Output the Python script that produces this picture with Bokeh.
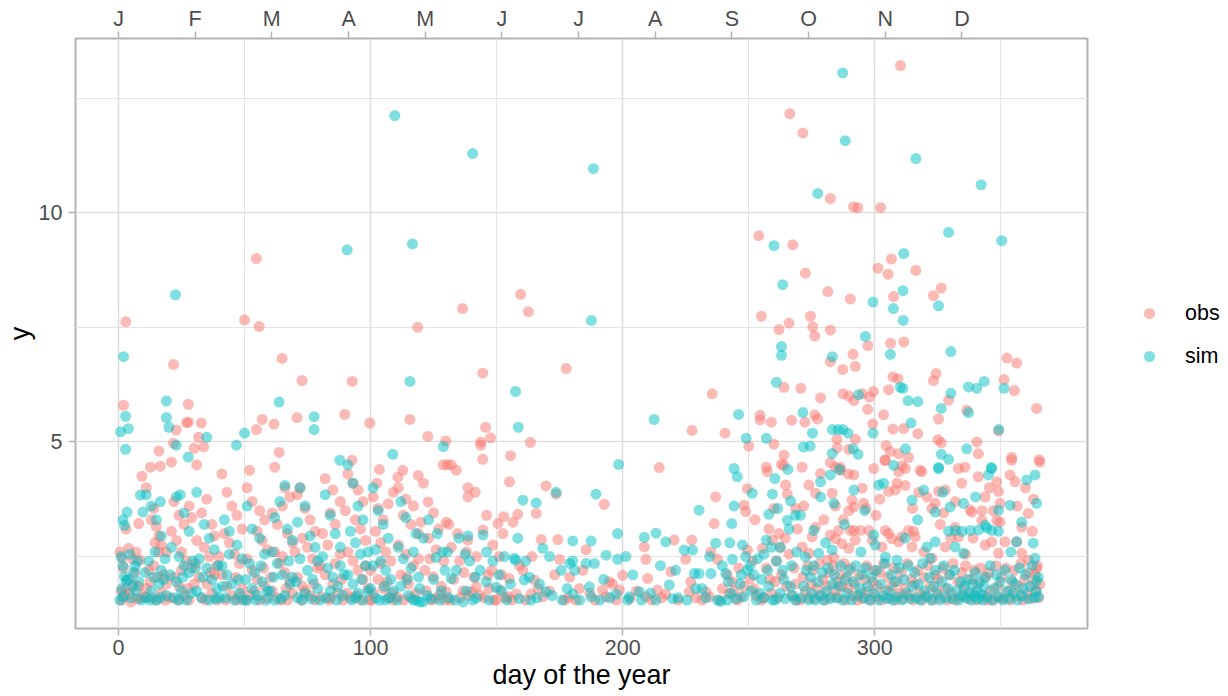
from bokeh.plotting import figure
from bokeh.layouts import row
from bokeh.models import Range1d, LinearAxis, FixedTicker, Legend, LegendItem, ColumnDataSource
from bokeh.embed import file_html
from bokeh.resources import INLINE

# ---------------- data ----------------
obs_day = [
    # days 0-10
    2.9, 2.0, 3.0, 8.0, 4.0, 1.5, 7.0, 8.5, 2.4, 5.0, 9.3, 1.0, 6.0, 3.5, 9.0, 0.5, 1.2, 4.5, 6.5, 8.0, 2.0, 5.5, 7.5, 3.0,
    # 10-20
    12.7, 16.6, 16.0, 11.0, 14.0, 13.0, 15.0, 17.0, 19.0, 14.5, 16.0, 12.0, 18.0, 11.0, 13.0, 15.0, 17.0, 19.0, 14.0, 16.0, 10.5, 12.5, 18.5, 15.5,
    # 20-30
    22.9, 21.8, 21.8, 27.7, 27.7, 27.0, 21.0, 22.0, 24.0, 26.0, 28.0, 29.0, 21.0, 23.0, 25.0, 27.0, 29.0, 22.0, 24.0, 26.0, 28.0, 25.0, 30.0, 20.5, 23.5, 27.5,
    # 30-40
    32.8, 31.8, 30.0, 33.8, 31.0, 35.0, 33.0, 37.0, 38.0, 31.0, 34.0, 36.0, 39.0, 32.0, 35.0, 37.0, 39.0, 33.0, 38.0, 30.5, 34.5, 36.5,
    # 40-50
    50.0, 41.0, 43.0, 45.0, 47.0, 49.0, 42.0, 44.0, 46.0, 48.0, 41.0, 43.0, 45.0, 47.0, 49.0, 40.0, 42.5, 46.5, 48.5,
    # 50-60
    54.7, 55.8, 54.7, 57.0, 52.0, 51.0, 53.0, 56.0, 58.0, 55.0, 57.0, 59.0, 51.0, 53.0, 55.0, 58.0, 52.0, 56.0, 59.0, 50.5, 54.0, 57.5,
    # 60-70
    64.9, 61.7, 63.7, 62.0, 66.0, 68.0, 65.0, 61.0, 63.0, 67.0, 69.0, 62.0, 64.0, 66.0, 68.0, 61.0, 63.0, 67.0, 69.0, 65.0, 60.5, 64.5, 66.5,
    # 70-80
    72.8, 70.8, 72.0, 71.0, 74.0, 76.0, 78.0, 73.0, 75.0, 77.0, 79.0, 71.0, 73.0, 76.0, 78.0, 74.0, 70.0, 72.5, 77.5,
    # 80-90
    89.8, 82.0, 85.0, 88.0, 84.0, 86.0, 81.0, 83.0, 88.0, 80.0, 82.0, 85.0, 87.0, 89.0, 84.0, 86.0, 80.5, 83.5, 88.5,
    # 90-100
    92.7, 92.6, 99.7, 91.0, 93.0, 95.0, 97.0, 90.0, 94.0, 96.0, 98.0, 91.0, 93.0, 95.0, 97.0, 99.0, 92.0, 96.0, 98.0, 90.5, 94.5, 99.5,
    # 100-110
    101.0, 103.0, 105.0, 107.0, 109.0, 102.0, 104.0, 106.0, 108.0, 100.0, 103.0, 105.0, 107.0, 109.0, 101.0, 104.0, 100.5, 106.5, 108.5, 102.5, 103.5,
    # 110-120
    118.7, 115.6, 110.8, 112.8, 111.0, 114.0, 117.0, 113.0, 116.0, 119.0, 111.0, 114.0, 117.0, 112.0, 115.0, 118.0, 113.0, 116.0, 119.0, 118.9, 110.5, 114.5,
    # 120-130
    122.7, 129.8, 128.8, 121.0, 122.8, 120.0, 125.0, 127.0, 124.8, 121.5, 124.1, 127.4, 129.0, 123.0, 126.0, 128.0, 122.0, 125.5, 129.5, 123.5,
    # 130-140
    130.5, 134.0, 132.0, 138.6, 138.6, 136.5, 130.0, 131.0, 135.3, 138.0, 138.6, 130.0, 133.0, 136.7, 139.0, 132.0, 134.5, 137.0, 131.5, 135.5,
    # 140-150
    144.5, 145.6, 147.6, 143.7, 143.7, 144.5, 141.5, 144.6, 146.6, 143.3, 140.0, 141.9, 141.0, 148.0, 149.0, 142.0, 146.0, 148.5, 145.0, 147.0,
    # 150-160
    159.5, 155.5, 155.1, 158.4, 156.5, 152.8, 150.5, 152.5, 151.0, 155.0, 157.8, 154.5, 151.2, 153.5, 159.0, 150.0, 156.0, 152.0,
    # 160-170
    162.6, 163.4, 165.7, 160.4, 165.0, 168.3, 163.7, 167.7, 169.6, 161.5, 166.5, 164.0,
    # 170-180
    177.6, 173.6, 174.3, 175.0, 176.9, 178.5, 171.0, 173.0, 179.0,
    # 180-190
    184.2, 182.8, 181.5, 187.0, 189.0, 185.5,
    # 190-200
    192.7, 192.0, 194.7, 193.5, 200.0, 198.7, 196.0, 197.5,
    # 200-210
    209.2, 209.9, 209.2, 208.6, 203.0, 205.5,
    # 210-220
    214.5, 213.8, 219.1, 217.1, 220.4, 211.5, 215.5,
    # 220-230
    227.5, 227.4, 225.0, 227.0, 226.4, 222.0, 229.0,
    # 230-240
    235.5, 236.9, 236.3, 233.0, 235.0, 237.6, 239.6, 231.5, 234.5, 238.5,
    # 240-250
    240.6, 242.2, 245.5, 248.1, 248.8, 249.5, 249.5, 250.0, 241.5, 243.5, 246.0, 247.0, 244.0, 248.0,
    # 250-260
    254.0, 255.0, 254.5, 254.5, 259.0, 257.4, 255.4, 259.4, 250.5, 252.0, 260.0, 258.0, 256.0, 253.0, 251.5, 257.0, 259.0, 255.0, 258.5, 252.5, 260.0, 257.0,
    # 260-270
    266.3, 262.0, 266.0, 264.0, 267.0, 264.0, 264.6, 265.3, 268.6, 262.0, 269.3, 264.0, 263.0, 267.5, 261.0, 263.0, 265.0, 267.0, 269.0, 261.5, 262.5, 266.0, 268.0, 264.5, 260.5, 268.5,
    # 270-365 upper
    272.5, 306.6, 301.3, 305.3, 316.3, 281.4, 290.3, 307.5, 323.3, 326.4,
    274.5, 275.4, 276.2, 282.4, 297.3, 306.3, 311.5, 291.4, 282.4, 287.3,
    292.3, 270.7, 278.5, 287.4, 289.8, 291.7, 295.0, 297.9, 299.5, 305.5,
    307.2, 309.2, 323.3, 324.3, 329.3, 336.5, 351.3, 355.4, 352.4, 356.3,
    364.2, 297.2, 303.5, 276.2, 272.3, 277.3, 299.2, 307.2, 311.5, 317.1,
    325.3, 325.1, 326.4, 349.1, 340.5, 292.3, 285.0, 285.1, 289.7, 304.5,
    306.2, 309.5, 313.4, 304.0, 341.1, 354.3, 365.2, 282.4, 286.3,
    310.2, 271.5, 282.4, 291.6, 293.3, 302.3,
    # 270-365 middle
    271.2, 278.5, 286.4, 284.4, 291.7, 289.5, 295.0, 283.1, 273.9, 276.5,
    284.4, 291.0, 291.7, 289.7, 295.6, 299.6, 304.2, 309.5, 310.8, 312.1,
    308.8, 312.1, 305.5, 308.2, 317.4, 320.7, 318.7, 318.0, 325.3, 328.0,
    324.0, 322.7, 327.3, 333.2, 335.8, 334.5, 341.1, 343.8, 342.5, 338.5,
    337.8, 348.4, 349.1, 349.7, 354.3, 355.7, 353.7, 360.9, 358.3, 365.5,
    348.4, 349.7, 342.5, 331.9, 333.2, 330.2, 328.0, 322.7, 316.1, 315.4,
    313.4, 310.8, 314.8, 309.5, 306.8, 304.2, 305.5, 302.9, 297.6, 299.0,
    294.3, 291.7, 290.3, 292.3, 289.7, 287.0, 284.4, 285.7, 282.4, 283.8,
    281.1, 276.5, 275.2, 273.9, 271.2, 343.8, 346.4, 351.7, 349.1, 356.3,
    358.3, 361.0, 364.2, 363.6, 365.5, 347.0, 356.5, 362.5, 339.0, 336.0,
    319.5, 326.0, 300.5, 296.5, 279.8, 287.5, 302.0, 315.0, 332.0, 345.5,
    359.8, 363.0, 271.8,
    # 270-365 lower band
    270.5, 271.5, 272.5, 273.5, 274.0, 274.8, 275.5, 276.0, 277.0, 278.0,
    278.8, 279.5, 280.3, 281.0, 282.0, 282.8, 283.5, 284.5, 284.9, 285.5,
    286.2, 287.0, 287.8, 288.5, 289.5, 289.0, 290.5, 291.2, 292.0, 293.0,
    293.8, 294.5, 295.2, 296.0, 296.8, 297.5, 298.3, 299.2, 299.8, 300.5,
    301.2, 302.0, 303.0, 303.5, 304.5, 305.2, 306.0, 306.8, 307.5, 308.3,
    309.0, 309.8, 310.5, 311.2, 312.0, 313.0, 313.8, 314.5, 315.3, 316.0,
    317.0, 318.0, 318.8, 319.5, 320.3, 321.0, 322.0, 323.0, 323.8, 324.5,
    325.3, 326.0, 327.0, 328.0, 328.8, 329.5, 330.3, 331.0, 332.0, 333.0,
    333.8, 334.5, 335.3, 336.0, 337.0, 338.0, 338.8, 339.5, 340.3, 341.0,
    342.0, 343.0, 343.8, 344.5, 345.3, 346.0, 347.0, 348.0, 348.8, 349.5,
    350.3, 351.0, 352.0, 353.0, 353.8, 354.5, 355.3, 356.0, 357.0, 358.0,
    358.8, 359.5, 360.3, 361.0, 362.0, 363.0, 363.8, 364.5, 365.0,
]
obs_y = [
    7.62, 5.80, 3.10, 3.22, 2.68, 2.46, 2.60, 2.42, 1.65, 1.51, 4.25, 1.75, 1.90, 2.00, 1.60, 2.60, 1.55, 1.70, 2.15, 1.85, 2.25, 2.45, 1.58, 1.80,
    4.45, 4.47, 4.80, 4.00, 3.55, 3.30, 3.15, 2.75, 2.60, 2.80, 2.95, 2.20, 2.10, 1.80, 1.60, 1.55, 1.70, 1.90, 2.30, 2.60, 1.62, 1.95, 1.55, 2.05,
    5.26, 4.97, 6.69, 5.82, 5.43, 5.42, 4.56, 3.70, 3.40, 3.20, 3.60, 3.35, 3.05, 2.85, 2.60, 2.40, 2.25, 2.05, 1.85, 1.65, 1.55, 2.20, 1.90, 1.60, 1.55, 1.80,
    5.41, 5.10, 4.86, 4.89, 4.50, 3.75, 3.45, 3.20, 2.95, 2.85, 2.70, 2.50, 2.30, 2.05, 1.90, 1.70, 1.55, 1.60, 2.10, 2.35, 1.55, 2.15,
    7.66, 4.30, 3.90, 3.60, 3.40, 3.10, 3.00, 2.80, 2.55, 2.35, 2.10, 1.85, 1.65, 1.55, 1.80, 2.50, 1.55, 2.05, 1.62,
    9.00, 7.52, 5.27, 5.49, 4.38, 4.00, 3.70, 3.50, 3.30, 3.05, 2.85, 2.65, 2.45, 2.20, 2.00, 1.85, 1.65, 1.55, 1.60, 1.55, 1.75, 2.25,
    6.82, 5.39, 4.77, 4.45, 4.00, 3.80, 3.60, 3.45, 3.20, 3.00, 2.80, 2.60, 2.35, 2.15, 1.95, 1.75, 1.60, 1.55, 1.70, 2.50, 2.05, 1.55, 1.80,
    6.34, 5.53, 4.00, 3.85, 3.55, 3.30, 3.05, 2.90, 2.70, 2.45, 2.25, 2.05, 1.85, 1.65, 1.55, 1.75, 2.60, 1.55, 1.90,
    5.60, 4.20, 3.95, 3.70, 3.45, 3.20, 3.00, 2.75, 2.55, 2.30, 2.10, 1.90, 1.70, 1.55, 1.60, 2.35, 1.62, 1.55, 2.00,
    6.32, 4.60, 5.41, 4.30, 4.10, 3.95, 3.70, 3.50, 3.30, 3.10, 2.85, 2.60, 2.40, 2.20, 2.00, 1.80, 1.60, 1.55, 2.30, 1.70, 1.65, 1.55,
    3.80, 3.55, 3.30, 3.65, 3.90, 3.05, 2.80, 2.60, 2.40, 2.20, 2.00, 1.80, 1.60, 1.55, 1.70, 2.35, 1.55, 1.95, 1.70, 4.10, 4.40,
    7.50, 5.49, 4.23, 4.38, 4.00, 3.75, 3.60, 3.40, 3.20, 3.00, 2.75, 2.55, 2.30, 2.10, 1.90, 1.70, 1.55, 1.60, 2.45, 4.27, 1.62, 2.05,
    5.12, 5.02, 4.50, 4.10, 3.69, 3.25, 3.45, 3.10, 2.06, 2.20, 1.55, 1.66, 2.40, 2.90, 2.65, 1.85, 1.75, 1.58, 1.55, 2.45,
    4.50, 4.38, 4.50, 4.00, 3.80, 7.91, 3.25, 3.20, 2.40, 2.60, 2.86, 1.73, 2.00, 1.75, 1.65, 2.70, 3.00, 2.15, 1.55, 1.60,
    6.50, 5.32, 5.09, 5.00, 4.93, 4.62, 3.90, 3.08, 2.09, 1.66, 1.73, 1.84, 2.05, 2.20, 1.55, 2.50, 3.40, 2.75, 1.60, 1.80,
    8.22, 4.70, 4.13, 3.42, 3.25, 3.37, 3.22, 3.00, 2.50, 2.02, 1.68, 1.62, 1.77, 1.60, 2.30, 1.55, 1.55, 2.10,
    7.84, 4.99, 3.44, 2.20, 1.99, 1.62, 1.68, 2.87, 4.04, 1.55, 1.80, 2.50,
    6.60, 3.86, 2.87, 2.44, 1.55, 1.60, 1.75, 2.10, 2.05,
    2.20, 1.80, 1.55, 1.70, 1.55, 2.65,
    3.64, 1.77, 1.95, 1.62, 2.09, 1.77, 1.90, 1.55,
    1.62, 2.02, 2.44, 2.71, 1.58, 1.75,
    4.44, 1.77, 2.17, 1.68, 2.86, 1.55, 1.60,
    5.25, 2.86, 2.44, 1.95, 1.73, 1.55, 1.60,
    6.05, 3.80, 3.22, 1.73, 2.60, 2.44, 1.80, 1.55, 1.62, 1.55,
    5.19, 1.68, 1.55, 3.62, 3.48, 3.98, 2.64, 4.91, 2.10, 1.95, 2.25, 1.62, 1.75, 1.85,
    9.50, 7.74, 5.48, 5.58, 5.43, 4.35, 2.68, 2.86, 2.02, 1.80, 3.55, 3.10, 1.60, 1.65, 2.40, 2.25, 1.70, 1.55, 2.00, 3.30, 4.95, 4.45,
    12.16, 7.45, 7.59, 6.19, 5.47, 4.49, 4.06, 3.86, 3.55, 3.00, 3.10, 4.71, 4.51, 9.30, 2.40, 2.10, 1.85, 1.65, 1.55, 1.60, 2.70, 2.55, 2.25, 2.90, 1.95, 1.90,
    8.68, 8.99, 8.79, 8.66, 8.74, 8.28, 8.12, 8.17, 8.19, 8.36,
    7.74, 7.51, 7.31, 7.44, 7.10, 7.15, 7.18, 6.91, 6.75, 6.58,
    6.65, 6.17, 5.96, 6.05, 6.00, 5.90, 6.05, 5.98, 6.10, 6.14,
    6.42, 6.38, 6.34, 6.49, 5.91, 5.69, 6.36, 6.12, 6.83, 6.72,
    5.73, 5.71, 5.59, 5.59, 5.43, 5.50, 5.39, 5.28, 5.29, 5.18,
    5.50, 5.05, 4.98, 5.24, 5.00, 5.06, 5.06, 4.87, 4.84, 4.92,
    4.79, 4.74, 4.66, 4.60, 4.74, 4.66, 4.61, 4.55, 4.45,
    13.21, 11.74, 10.31, 10.13, 10.11, 10.11,
    4.45, 4.31, 4.38, 4.45, 4.28, 4.30, 3.99, 3.88, 4.06, 3.88,
    3.60, 3.73, 3.58, 3.50, 3.66, 4.42, 4.60, 4.35, 4.48, 4.42,
    4.10, 4.05, 3.92, 3.95, 3.90, 3.80, 4.35, 4.38, 3.92, 3.95,
    3.66, 3.55, 3.45, 4.42, 4.45, 4.10, 4.24, 3.80, 3.50, 3.47,
    3.52, 4.13, 3.92, 3.66, 4.60, 4.13, 4.28, 3.44, 3.14, 4.56,
    3.29, 3.25, 3.29, 3.14, 2.93, 2.90, 2.71, 2.46, 2.93, 3.05,
    3.07, 2.93, 2.71, 2.82, 2.89, 3.07, 3.00, 2.71, 3.07, 2.86,
    3.07, 3.07, 3.07, 2.86, 2.68, 2.78, 2.89, 3.07, 2.97, 2.48,
    2.42, 3.14, 2.93, 2.57, 2.71, 2.75, 2.82, 2.82, 2.57, 2.82,
    2.57, 2.42, 2.24, 2.10, 1.90, 3.50, 3.60, 3.05, 2.90, 2.55,
    2.60, 3.20, 3.40, 3.55, 3.30, 3.30, 3.75, 3.55, 3.70, 4.00,
    4.00, 3.75, 3.60,
    1.55, 2.05, 1.75, 2.30, 1.60, 1.90, 2.20, 1.58, 1.80, 2.35,
    1.65, 2.00, 1.55, 1.85, 2.15, 1.62, 2.30, 1.75, 1.95, 1.60,
    2.10, 1.85, 2.35, 1.55, 1.80, 2.05, 2.25, 1.65, 1.90, 1.55,
    2.10, 1.70, 1.58, 2.00, 2.30, 1.75, 1.55, 1.95, 2.20, 1.62,
    1.85, 2.15, 1.55, 2.35, 1.75, 2.05, 1.60, 1.85, 2.25, 1.55,
    1.95, 1.70, 2.15, 1.58, 1.80, 2.35, 1.65, 2.00, 1.55, 1.90,
    2.20, 1.70, 1.55, 2.05, 1.65, 2.30, 1.85, 1.55, 2.10, 1.75,
    2.00, 1.60, 2.25, 1.80, 1.55, 2.10, 1.70, 2.35, 1.55, 1.95,
    1.62, 2.15, 1.80, 2.30, 1.58, 2.00, 1.70, 2.20, 1.55, 1.90,
    2.25, 1.65, 2.05, 1.55, 2.15, 1.75, 1.55, 2.30, 1.85, 1.60,
    2.05, 1.58, 2.25, 1.75, 1.55, 1.95, 2.20, 1.65, 1.85, 2.35,
    1.55, 2.00, 1.70, 2.15, 1.58, 1.90, 1.75, 2.30, 1.60,
]

sim_day = [
    2.0, 2.8, 3.9, 0.8, 2.8, 1.8, 3.4, 2.4, 1.8, 2.4, 3.0, 1.4, 1.8, 6.6, 8.7, 9.7, 8.0, 5.0, 7.0, 4.0, 9.0, 1.0, 4.5, 6.0, 0.5, 7.5, 5.5,
    19.0, 19.0, 20.0, 11.0, 13.0, 16.6, 15.0, 17.0, 12.0, 14.0, 16.0, 18.0, 11.0, 13.0, 15.0, 19.0, 17.0, 10.5, 12.5, 14.5, 18.5, 16.5,
    22.6, 22.9, 27.7, 23.0, 26.0, 24.5, 28.0, 21.0, 24.0, 26.0, 28.0, 23.0, 25.0, 27.0, 29.0, 22.0, 20.5, 25.5, 29.5, 24.0,
    35.0, 31.0, 34.0, 36.0, 38.0, 32.0, 35.0, 37.0, 39.0, 33.0, 31.0, 36.0, 38.5, 33.5, 30.5, 39.5,
    46.8, 42.0, 44.0, 47.0, 49.0, 41.0, 43.0, 45.0, 48.0, 40.0, 46.0, 44.0, 42.5, 47.5, 49.5, 41.5,
    50.0, 51.0, 53.0, 56.0, 58.0, 52.0, 54.0, 57.0, 59.0, 51.0, 55.0, 53.0, 58.5, 56.5, 50.5, 54.5,
    63.7, 66.0, 64.0, 62.0, 67.0, 69.0, 61.0, 63.0, 65.0, 68.0, 60.0, 62.0, 66.0, 69.0, 64.5, 67.5, 61.5,
    77.6, 77.6, 72.0, 74.0, 71.0, 76.0, 78.0, 72.0, 75.0, 77.0, 79.0, 71.0, 74.0, 79.0, 73.0, 76.5, 70.5,
    87.8, 82.0, 84.0, 86.0, 88.0, 81.0, 83.0, 85.0, 87.0, 89.0, 80.0, 84.0, 88.0, 86.5, 82.5, 89.5,
    90.7, 91.0, 93.0, 95.0, 97.0, 92.0, 94.0, 96.0, 98.0, 91.0, 93.0, 95.0, 97.0, 99.0, 99.0, 92.5, 96.5, 94.0,
    109.6, 108.8, 101.0, 103.0, 105.0, 107.0, 102.0, 104.0, 106.0, 108.0, 100.0, 102.0, 106.0, 109.0, 103.5, 107.5, 101.0, 105.5,
    116.6, 115.6, 112.0, 114.0, 118.0, 111.0, 113.0, 116.0, 119.0, 112.0, 115.0, 118.0, 117.0, 110.5, 119.5, 116.9, 114.5, 119.5,
    120.8, 127.4, 126.0, 121.0, 123.0, 125.0, 128.0, 122.5, 129.5, 124.0, 126.5, 128.5, 128.9,
    134.0, 132.0, 136.7, 139.3, 137.5, 131.0, 133.5, 138.0, 135.0, 130.5, 140.5, 138.6,
    140.6, 144.6, 145.9, 149.8, 142.0, 147.0, 148.5, 143.5, 146.0, 141.5,
    157.5, 158.6, 157.0, 157.5, 158.4, 154.0, 159.0, 152.0, 155.5, 151.0, 160.4, 153.0,
    161.0, 163.0, 163.5, 165.7, 168.3, 169.6, 166.0, 161.5, 167.0,
    173.6, 175.6, 172.0, 176.0, 178.0, 179.0, 171.0,
    188.4, 187.6, 189.4, 187.5, 180.2, 180.2, 181.0, 185.5, 188.8, 180.2, 186.8, 187.5, 183.0,
    198.4, 198.0, 193.4, 198.0, 197.4, 195.0, 191.0, 192.5,
    201.3, 202.6, 202.0, 206.6, 208.6, 204.0, 207.5,
    212.5, 213.2, 217.1, 213.2, 218.5, 219.8, 211.0, 215.0,
    224.4, 227.7, 228.5, 222.0, 225.5, 229.0, 221.0,
    230.3, 230.3, 235.0, 236.9, 237.6, 238.9, 233.0, 231.5, 239.5, 234.5,
    246.0, 242.5, 244.2, 245.5, 244.2, 243.3, 243.5, 240.9, 247.5, 248.8, 249.0, 241.5, 243.0, 245.0, 246.5, 248.0, 249.5, 242.0, 247.0,
    260.0, 257.0, 251.4, 259.4, 258.0, 257.0, 256.0, 260.4, 250.5, 252.0, 253.0, 254.5, 256.0, 258.0, 259.5, 251.0, 255.0, 253.5, 257.5, 259.0,
    263.5, 263.0, 263.0, 261.0, 266.6, 261.5, 265.3, 265.5, 268.5, 262.5, 266.0, 261.0, 264.0, 267.0, 269.0, 260.5, 262.5, 264.5, 266.5, 268.5, 263.5, 267.5,
    # 270-365 upper
    271.5, 275.3, 271.7, 274.4, 283.2, 285.5, 287.4, 289.4, 283.1, 291.4,
    293.4, 293.6, 299.3, 310.1, 311.2, 313.2, 317.1, 314.4, 312.2, 330.2,
    326.4, 337.2, 340.5, 343.4, 351.3, 337.2, 349.2, 336.5, 326.4, 325.3,
    346.2, 329.3, 350.4, 329.3, 311.5, 311.2, 307.4, 299.3, 311.3, 325.3,
    296.3, 306.2, 330.2, 283.2, 287.3, 288.3, 316.3, 342.2, 277.4,
    # 270-365 middle
    278.5, 282.4, 291.7, 278.5, 283.8, 307.5, 301.6, 303.5, 314.8, 319.4,
    325.3, 324.0, 329.9, 335.2, 346.4, 345.1, 349.1, 353.7, 360.3, 363.6,
    364.2, 358.3, 343.8, 332.0, 334.6, 337.9, 341.2, 344.5, 346.5, 349.1,
    329.3, 331.9, 335.2, 320.7, 324.0, 322.0, 308.8, 304.2, 299.6, 300.2,
    275.8, 272.5, 277.8, 280.5, 283.1, 356.3, 362.9, 363.6, 364.2, 364.9,
    296.0, 288.0, 317.0, 327.0, 340.0, 354.0, 312.0, 294.5, 270.5, 286.0,
    # 270-365 lower band
    270.8, 271.8, 272.8, 273.8, 274.5, 275.0, 275.8, 276.5, 277.5, 278.3,
    279.2, 279.8, 280.8, 281.5, 282.3, 283.2, 284.0, 284.8, 285.8, 286.5,
    287.3, 288.2, 289.0, 289.8, 290.8, 291.6, 292.5, 293.3, 294.1, 294.9,
    295.8, 296.5, 297.2, 298.0, 298.8, 299.6, 300.8, 301.6, 302.4, 303.3,
    304.1, 304.9, 305.8, 306.5, 307.2, 308.0, 308.8, 309.6, 310.8, 311.6,
    312.4, 313.3, 314.1, 314.9, 315.8, 316.5, 317.4, 318.2, 319.0, 319.8,
    320.8, 321.6, 322.4, 323.3, 324.1, 324.9, 325.8, 326.6, 327.4, 328.3,
    329.1, 329.9, 330.8, 331.6, 332.4, 333.3, 334.1, 334.9, 335.6, 336.2,
    336.9, 337.6, 338.3, 338.9, 339.5, 339.9, 340.4, 341.0, 341.6, 342.2,
    342.8, 343.4, 344.0, 344.6, 345.8, 346.6, 347.4, 348.2, 349.0, 349.8,
    350.8, 351.6, 352.4, 353.3, 354.1, 354.9, 355.8, 356.6, 357.4, 358.2,
    359.0, 359.8, 360.8, 361.6, 362.4, 363.3, 364.1, 364.9,
]
sim_y = [
    6.86, 5.56, 5.29, 5.22, 4.84, 3.30, 3.47, 3.18, 2.29, 2.06, 1.97, 1.80, 1.62, 2.29, 3.84, 3.47, 1.95, 1.60, 1.75, 2.00, 1.55, 2.50, 2.55, 2.15, 1.55, 2.40, 1.85,
    5.89, 5.53, 5.32, 3.85, 3.60, 3.70, 3.30, 2.95, 2.40, 2.05, 1.90, 2.00, 1.60, 1.75, 1.55, 1.65, 2.20, 2.15, 1.55, 2.60, 2.45, 1.60,
    8.21, 4.93, 4.67, 3.80, 3.45, 3.85, 3.05, 2.70, 2.50, 2.30, 2.15, 1.95, 1.75, 1.55, 1.70, 1.60, 2.10, 2.05, 2.40, 1.55,
    5.10, 3.90, 3.20, 2.90, 2.65, 2.45, 2.25, 2.00, 1.80, 1.60, 1.75, 1.55, 1.58, 2.05, 2.25, 2.30,
    4.93, 3.30, 3.05, 2.75, 2.45, 2.30, 2.10, 1.90, 1.70, 1.60, 1.55, 2.55, 1.60, 2.00, 1.55, 1.85,
    5.19, 3.60, 3.10, 2.90, 2.55, 2.35, 2.15, 1.95, 1.75, 1.55, 1.65, 1.80, 1.55, 2.30, 2.00, 1.55,
    5.87, 4.05, 3.70, 3.35, 3.10, 2.85, 2.60, 2.35, 2.10, 1.90, 1.75, 1.55, 1.65, 2.05, 1.58, 2.40, 2.05,
    5.55, 5.27, 4.00, 3.60, 3.25, 2.95, 2.70, 2.45, 2.20, 2.00, 1.80, 1.60, 1.70, 2.40, 1.55, 1.58, 1.95,
    4.60, 3.85, 3.40, 3.00, 2.70, 2.50, 2.25, 2.05, 1.85, 1.65, 1.55, 1.75, 2.30, 1.55, 1.60, 2.10,
    9.19, 4.50, 4.10, 3.60, 3.30, 3.05, 2.80, 2.55, 2.30, 2.10, 1.90, 1.70, 1.55, 1.75, 2.60, 1.55, 2.00, 1.60,
    12.12, 4.73, 4.00, 3.50, 3.20, 2.90, 2.65, 2.40, 2.20, 2.00, 1.80, 1.60, 1.55, 1.75, 1.55, 1.60, 2.30, 1.85,
    9.32, 6.32, 3.70, 3.35, 3.00, 2.70, 2.45, 2.25, 2.05, 1.85, 1.65, 1.55, 2.60, 1.55, 1.51, 1.55, 2.00, 1.80,
    1.51, 1.55, 2.48, 2.90, 3.30, 2.00, 1.75, 1.65, 2.20, 1.58, 3.00, 2.60, 4.90,
    2.20, 2.02, 1.51, 2.40, 2.55, 1.60, 1.55, 1.75, 2.90, 2.60, 11.29, 2.95,
    1.55, 2.97, 1.95, 1.83, 1.60, 1.55, 2.40, 2.20, 2.60, 2.05,
    6.10, 5.32, 2.46, 2.42, 2.90, 1.55, 1.58, 1.75, 1.90, 2.10, 3.73, 2.50,
    1.99, 2.05, 1.55, 3.67, 2.68, 1.73, 1.60, 2.40, 1.90,
    3.90, 2.20, 1.65, 1.55, 1.80, 2.35, 2.50,
    10.96, 7.65, 3.86, 2.84, 2.84, 2.40, 2.20, 2.35, 2.35, 1.68, 1.84, 1.62, 1.55,
    4.51, 3.00, 2.53, 2.44, 1.68, 1.60, 1.55, 2.00,
    2.50, 1.62, 1.55, 1.73, 2.92, 2.10, 1.55,
    5.49, 3.01, 2.82, 1.55, 1.88, 1.58, 1.70, 2.30,
    2.64, 2.64, 2.13, 1.60, 1.55, 1.80, 2.20,
    3.51, 2.13, 2.13, 2.79, 1.55, 1.52, 1.60, 1.80, 2.30, 2.50,
    5.60, 2.80, 4.42, 4.24, 3.60, 3.22, 2.44, 2.13, 2.75, 2.50, 5.08, 1.55, 1.70, 1.58, 1.90, 1.62, 2.20, 1.95, 2.10,
    9.28, 5.08, 3.88, 3.86, 3.42, 2.86, 2.55, 4.20, 2.30, 2.10, 1.55, 1.70, 1.60, 1.85, 1.55, 1.75, 2.00, 2.45, 2.20, 2.70,
    8.43, 7.08, 6.89, 6.30, 3.71, 3.55, 3.29, 4.40, 3.40, 2.70, 3.10, 2.40, 2.00, 2.30, 2.60, 1.55, 1.70, 1.58, 1.85, 1.55, 2.20, 1.65,
    5.64, 5.19, 4.89, 4.91, 5.27, 5.27, 5.27, 5.19, 4.75, 4.85,
    4.73, 6.03, 5.19, 6.19, 6.17, 5.90, 5.88, 5.41, 4.85, 6.06,
    5.73, 6.20, 6.17, 6.32, 6.17, 5.64, 5.27, 4.85, 4.73, 4.44,
    4.44, 4.62, 9.39, 9.57, 9.11, 8.30, 7.91, 8.05, 7.65, 7.97,
    7.30, 6.91, 6.97, 6.86, 13.05, 11.57, 11.18, 10.61, 10.42,
    4.13, 4.28, 3.95, 3.80, 3.66, 4.49, 4.06, 4.10, 3.73, 3.95,
    4.42, 3.47, 3.58, 3.66, 4.42, 4.28, 3.51, 3.62, 4.17, 4.28,
    3.66, 3.25, 3.18, 3.07, 3.05, 3.07, 3.08, 3.12, 3.07, 3.05,
    3.05, 2.71, 2.57, 2.71, 2.82, 2.46, 2.42, 2.49, 2.97, 2.75,
    3.07, 2.49, 2.57, 2.80, 2.64, 2.82, 2.79, 2.46, 1.97, 1.62,
    3.50, 3.20, 3.30, 3.90, 3.80, 2.60, 2.90, 2.60, 3.40, 4.40,
    1.60, 1.85, 2.20, 1.55, 2.05, 1.70, 2.30, 1.55, 1.95, 1.65,
    2.15, 1.55, 1.75, 2.25, 1.58, 1.90, 2.10, 1.60, 1.85, 2.30,
    1.55, 2.00, 1.70, 2.20, 1.55, 1.95, 2.30, 1.65, 1.80, 2.10,
    1.60, 2.25, 1.85, 1.55, 2.05, 1.70, 2.20, 1.55, 1.90, 1.65,
    2.35, 1.58, 1.75, 2.10, 1.55, 1.95, 1.62, 2.25, 1.55, 2.00,
    1.70, 2.30, 1.58, 1.85, 2.15, 1.60, 1.90, 1.55, 2.35, 1.75,
    1.62, 2.05, 1.55, 1.85, 2.20, 1.68, 1.55, 1.95, 2.30, 1.60,
    1.80, 2.10, 1.58, 2.20, 1.75, 1.55, 1.95, 1.65, 1.85, 1.60,
    2.00, 1.70, 1.55, 1.90, 1.65, 2.15, 1.75, 1.58, 1.95, 1.68,
    1.55, 1.85, 2.05, 1.62, 2.30, 1.55, 1.80, 2.10, 1.62, 1.95,
    1.55, 2.20, 1.75, 1.58, 2.00, 1.70, 1.90, 1.55, 2.25, 1.65,
    1.80, 2.10, 1.58, 1.85, 2.30, 1.60, 1.75, 2.05,
]

x_ticks = [0, 100, 200, 300]
x_minor = [50, 150, 250, 350]
y_ticks = [5, 10]
y_minor = [2.5, 7.5, 12.5]
month_pos = [0.0, 30.4, 60.8, 91.3, 121.7, 152.1, 182.5, 212.9, 243.3, 273.8, 304.2, 334.6]
month_lab = ["J", "F", "M", "A", "M", "J", "J", "A", "S", "O", "N", "D"]
series = ["obs", "sim"]
colors = ["#F8766D", "#00BFC4"]

assert len(obs_day) == len(obs_y), (len(obs_day), len(obs_y))
assert len(sim_day) == len(sim_y), (len(sim_day), len(sim_y))

FONT = "Liberation Sans"
PT_SIZE = 11
ALPHA = 0.5

# ---------------- main panel ----------------
p = figure(width=1089, height=696, output_backend="svg", toolbar_location=None,
           x_range=Range1d(-17.06, 384.4), y_range=Range1d(0.93, 13.80),
           min_border_left=75, min_border_right=2, min_border_top=38, min_border_bottom=68)
p.background_fill_color = "white"
p.border_fill_color = "white"
p.outline_line_color = "#b3b3b3"
p.outline_line_width = 2

src_obs = ColumnDataSource(dict(x=obs_day, y=obs_y))
src_sim = ColumnDataSource(dict(x=sim_day, y=sim_y))
sources = [src_obs, src_sim]
for src, col in zip(sources, colors):
    p.scatter("x", "y", source=src, size=PT_SIZE, fill_color=col, fill_alpha=ALPHA, line_color=None)

p.xgrid.ticker = FixedTicker(ticks=x_ticks, minor_ticks=x_minor)
p.ygrid.ticker = FixedTicker(ticks=y_ticks, minor_ticks=y_minor)
for g in (p.xgrid, p.ygrid):
    g.grid_line_color = "#dedede"
    g.grid_line_width = 1.6
    g.minor_grid_line_color = "#e4e4e4"
    g.minor_grid_line_width = 1.0

def style_axis(ax, standoff):
    ax.axis_line_color = None
    ax.major_tick_line_color = "#b3b3b3"
    ax.major_tick_line_width = 1.5
    ax.major_tick_out = 7
    ax.major_tick_in = 0
    ax.minor_tick_line_color = None
    ax.major_label_text_font = FONT
    ax.major_label_text_font_size = "21.5px"
    ax.major_label_text_color = "#4d4d4d"
    ax.major_label_standoff = standoff
    ax.axis_label_text_font = FONT
    ax.axis_label_text_font_size = "26.9px"
    ax.axis_label_text_font_style = "normal"
    ax.axis_label_text_color = "black"

xa = p.xaxis[0]
xa.ticker = FixedTicker(ticks=x_ticks)
style_axis(xa, 4)
xa.axis_label = "day of the year"
xa.axis_label_standoff = 2

ya = p.yaxis[0]
ya.ticker = FixedTicker(ticks=y_ticks)
style_axis(ya, 6)
ya.axis_label = "y"
ya.axis_label_standoff = 1

top = LinearAxis(ticker=FixedTicker(ticks=month_pos),
                 major_label_overrides={pos: lab for pos, lab in zip(month_pos, month_lab)})
style_axis(top, 1)
p.add_layout(top, "above")

# ---------------- legend panel (right of the plot) ----------------
# its ranges lie outside the data, so only the legend keys are drawn there
lf = figure(width=139, height=696, output_backend="svg", toolbar_location=None,
            x_range=Range1d(-2, -1), y_range=Range1d(-2, -1),
            x_axis_location=None, y_axis_location=None,
            min_border_left=0, min_border_right=0, min_border_top=0, min_border_bottom=0)
lf.outline_line_color = None
lf.xgrid.visible = False
lf.ygrid.visible = False
lf.background_fill_color = "white"
lf.border_fill_color = "white"

items = []
for name, src, col in zip(series, sources, colors):
    r = lf.scatter("x", "y", source=src, size=PT_SIZE, fill_color=col, fill_alpha=ALPHA, line_color=None)
    items.append(LegendItem(label=name, renderers=[r]))

legend = Legend(items=items, location=(46, 258))
legend.border_line_color = None
legend.background_fill_alpha = 0
legend.padding = 0
legend.margin = 0
legend.spacing = 15
legend.glyph_height = 28
legend.glyph_width = 28
legend.label_standoff = 22
legend.label_text_font = FONT
legend.label_text_font_size = "21.5px"
legend.label_text_color = "black"
lf.add_layout(legend)

layout = row(p, lf)
open("out.html", "w").write(file_html(layout, INLINE))
